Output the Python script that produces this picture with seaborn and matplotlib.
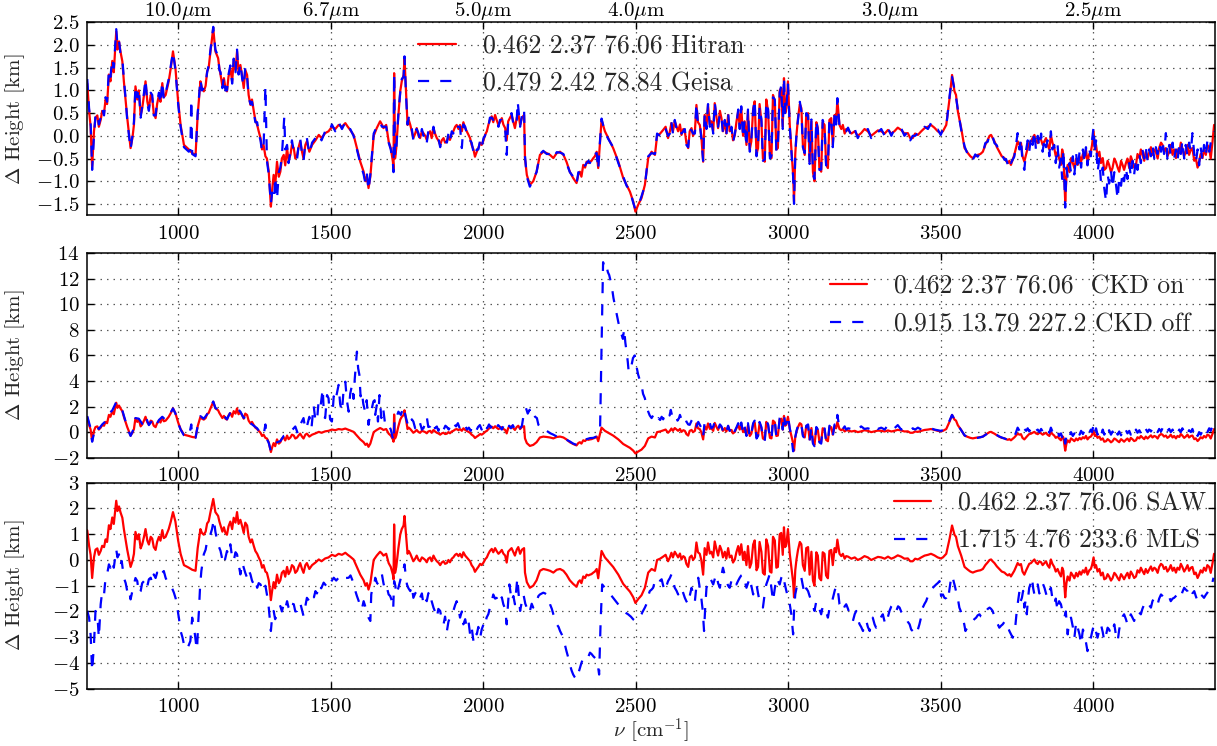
import numpy as np
import matplotlib
matplotlib.use("Agg")
import matplotlib.pyplot as plt
import seaborn as sns

# ---------------- data (wavenumber [cm-1], delta height [km]) ----------------
hitran = [(702,1.15),(708,0.55),(713,0.2),(718,-0.7),(724,0.1),(729,0.4),(735,0.45),(740,0.2),(746,0.35),(751,0.55),(757,0.5),(762,0.8),(767,0.7),(773,1.35),(778,1.2),(784,1.65),(789,1.4),(797,2.3),(801,1.9),(806,2.08),(811,1.85),(817,1.64),(822,1.2),(828,0.75),(833,0.4),(838,0.1),(844,-0.27),(850,-0.05),(855,0.24),(860,1.09),(866,0.8),(871,1.0),(877,0.45),(882,0.6),(888,0.9),(893,1.2),(899,0.75),(904,0.6),(910,0.9),(915,0.83),(920,0.5),(926,0.39),(931,0.7),(937,0.9),(942,0.75),(948,1.16),(953,0.85),(959,0.9),(964,1.05),(969,1.2),(976,1.5),(983,1.86),(991,1.49),(1000,0.75),(1008,0.24),(1019,-0.2),(1027,-0.25),(1035,-0.3),(1046,-0.38),(1057,-0.42),(1064,0.46),(1073,1.2),(1078,1.05),(1084,0.98),(1090,1.1),(1095,1.42),(1100,1.5),(1106,1.86),(1115,2.37),(1122,1.86),(1131,1.71),(1135,1.5),(1139,1.34),(1145,1.1),(1150,1.27),(1155,1.05),(1160,0.98),(1165,1.3),(1171,1.49),(1177,1.2),(1182,1.64),(1188,1.45),(1193,1.86),(1198,1.4),(1204,1.56),(1210,1.3),(1215,1.05),(1220,1.45),(1226,1.34),(1231,0.9),(1237,0.68),(1242,0.8),(1248,0.54),(1253,0.35),(1259,0.24),(1264,0.1),(1270,-0.05),(1275,-0.3),(1280,-0.2),(1286,-0.45),(1291,-0.5),(1297,-0.79),(1304,-1.56),(1308,-1.2),(1313,-0.86),(1318,-1.1),(1324,-0.57),(1330,-0.9),(1335,-0.79),(1340,-0.5),(1346,-0.42),(1351,-0.65),(1357,-0.27),(1362,-0.55),(1368,-0.42),(1373,-0.2),(1379,-0.27),(1384,-0.5),(1390,-0.42),(1395,-0.25),(1400,-0.12),(1406,-0.35),(1411,-0.5),(1417,-0.2),(1422,-0.12),(1430,-0.35),(1439,-0.2),(1450,-0.1),(1461,0.02),(1470,-0.05),(1482,0.06),(1493,0.1),(1504,0.2),(1515,0.15),(1526,0.24),(1537,0.2),(1548,0.28),(1556,0.2),(1564,0.13),(1575,0.02),(1586,-0.27),(1597,-0.57),(1608,-0.79),(1614,-1.0),(1619,-0.9),(1624,-1.15),(1630,-0.9),(1635,-0.49),(1641,0.0),(1651,0.17),(1662,0.32),(1668,0.25),(1673,0.17),(1682,0.24),(1690,-0.12),(1697,-0.27),(1704,-0.57),(1706,-0.75),(1708,1.38),(1711,-0.5),(1715,-0.27),(1722,0.46),(1728,0.98),(1733,1.2),(1739,1.34),(1742,1.71),(1747,0.98),(1752,0.24),(1756,0.35),(1761,0.24),(1766,0.1),(1771,-0.05),(1777,0.05),(1782,0.17),(1788,0.0),(1793,-0.05),(1799,0.1),(1804,0.06),(1810,0.0),(1815,-0.09),(1820,0.05),(1826,0.1),(1831,-0.05),(1837,0.17),(1842,0.05),(1848,-0.05),(1853,-0.1),(1859,-0.2),(1864,-0.1),(1870,-0.05),(1875,-0.15),(1881,-0.12),(1886,0.0),(1891,-0.09),(1897,0.05),(1902,0.1),(1908,0.2),(1913,0.24),(1919,0.15),(1924,0.24),(1930,0.1),(1935,0.3),(1941,0.17),(1946,0.1),(1952,0.02),(1957,-0.05),(1962,-0.2),(1968,-0.3),(1973,-0.46),(1979,-0.35),(1984,-0.27),(1990,-0.15),(1995,-0.2),(2001,-0.1),(2006,0.02),(2012,0.1),(2017,0.24),(2022,0.35),(2028,0.43),(2033,0.3),(2039,0.46),(2044,0.35),(2050,0.24),(2055,0.3),(2061,0.39),(2066,0.25),(2072,0.17),(2077,-0.1),(2082,0.32),(2088,0.4),(2093,0.46),(2099,0.3),(2104,0.17),(2110,0.4),(2115,0.5),(2121,0.24),(2127,0.4),(2134,0.46),(2137,-0.49),(2143,-0.86),(2153,-1.08),(2164,-1.0),(2175,-0.79),(2186,-0.42),(2197,-0.35),(2208,-0.38),(2219,-0.42),(2230,-0.49),(2241,-0.38),(2252,-0.35),(2263,-0.42),(2273,-0.57),(2284,-0.79),(2295,-0.93),(2306,-1.04),(2312,-0.85),(2317,-0.79),(2322,-0.9),(2328,-0.64),(2334,-0.7),(2339,-0.57),(2345,-0.6),(2350,-0.57),(2355,-0.55),(2361,-0.49),(2366,-0.45),(2372,-0.35),(2377,-0.71),(2383,-0.12),(2388,0.35),(2399,0.1),(2410,-0.05),(2426,-0.27),(2443,-0.57),(2459,-0.93),(2470,-1.08),(2481,-1.23),(2492,-1.45),(2499,-1.67),(2508,-1.52),(2519,-1.37),(2530,-1.08),(2541,-0.49),(2552,-0.35),(2563,-0.42),(2570,0.0),(2580,0.05),(2590,0.13),(2598,0.2),(2606,-0.05),(2612,0.1),(2617,0.28),(2622,0.1),(2628,0.32),(2634,0.2),(2639,0.1),(2645,0.25),(2650,0.02),(2656,0.15),(2661,0.1),(2666,-0.15),(2672,-0.27),(2677,0.1),(2683,0.17),(2688,0.0),(2694,0.1),(2699,0.68),(2704,0.3),(2710,0.24),(2715,0.0),(2721,-0.57),(2726,0.46),(2732,0.2),(2737,0.68),(2743,0.25),(2748,0.32),(2754,0.1),(2759,0.72),(2765,0.4),(2770,0.17),(2776,0.55),(2781,0.39),(2786,0.1),(2792,0.32),(2797,0.05),(2803,0.46),(2808,0.1),(2814,0.17),(2819,-0.1),(2825,0.02),(2830,0.3),(2836,0.54),(2841,0.2),(2846,0.61),(2852,0.0),(2857,0.32),(2863,-0.2),(2868,0.54),(2874,-0.3),(2879,-0.12),(2885,0.6),(2890,0.76),(2896,-0.4),(2901,-0.27),(2906,0.7),(2912,0.32),(2917,-0.5),(2923,-0.57),(2928,0.8),(2934,0.54),(2940,-0.45),(2945,-0.49),(2950,0.9),(2956,0.76),(2961,-0.3),(2966,-0.27),(2972,1.0),(2977,1.05),(2982,0.2),(2986,1.27),(2990,0.5),(2994,0.61),(2999,1.2),(3005,0.24),(3010,-0.27),(3016,-0.86),(3019,-1.45),(3023,-0.4),(3027,0.02),(3032,0.39),(3038,0.7),(3043,0.61),(3048,-0.2),(3054,-0.42),(3059,0.46),(3065,0.5),(3070,-0.57),(3076,0.32),(3081,-0.8),(3086,-1.0),(3092,0.3),(3097,0.17),(3102,-0.7),(3108,-0.79),(3113,0.3),(3119,0.24),(3124,-0.6),(3130,-0.71),(3135,0.35),(3141,0.39),(3146,-0.2),(3152,0.46),(3157,0.3),(3161,0.79),(3168,0.24),(3174,0.15),(3179,0.24),(3185,0.05),(3190,0.15),(3196,0.13),(3207,0.05),(3218,0.1),(3228,0.0),(3239,0.06),(3250,0.15),(3261,0.1),(3272,0.0),(3283,0.06),(3294,0.12),(3305,0.1),(3316,0.05),(3327,0.13),(3338,0.05),(3348,0.1),(3359,0.18),(3370,0.13),(3381,0.05),(3392,0.06),(3400,-0.05),(3408,-0.05),(3416,0.05),(3425,0.02),(3436,0.1),(3447,0.17),(3458,0.2),(3468,0.24),(3479,0.18),(3490,0.1),(3500,0.06),(3507,0.1),(3518,0.24),(3529,0.83),(3537,1.34),(3545,0.98),(3550,0.9),(3556,0.54),(3567,0.17),(3578,-0.27),(3589,-0.38),(3597,-0.45),(3605,-0.49),(3613,-0.45),(3621,-0.42),(3630,-0.4),(3638,-0.35),(3646,-0.2),(3654,-0.09),(3660,0.0),(3665,0.02),(3670,-0.05),(3676,-0.12),(3684,-0.25),(3692,-0.35),(3700,-0.45),(3709,-0.49),(3714,-0.55),(3720,-0.6),(3725,-0.55),(3730,-0.64),(3741,-0.42),(3752,-0.12),(3758,-0.2),(3763,-0.16),(3768,-0.45),(3774,-0.57),(3780,-0.4),(3785,-0.27),(3790,-0.15),(3796,-0.12),(3801,-0.05),(3807,0.02),(3812,-0.1),(3818,-0.16),(3823,-0.05),(3829,-0.09),(3834,-0.2),(3840,-0.12),(3845,-0.05),(3850,-0.2),(3856,-0.3),(3861,0.02),(3866,-0.15),(3872,-0.27),(3877,-0.45),(3883,-0.35),(3888,-0.5),(3894,-0.64),(3898,-0.3),(3902,-0.42),(3908,-1.45),(3912,-0.9),(3916,-0.64),(3922,-0.8),(3927,-0.49),(3933,-0.6),(3938,-0.71),(3944,-0.5),(3949,-0.64),(3955,-0.45),(3960,-0.57),(3966,-0.4),(3971,-0.49),(3976,-0.3),(3981,-0.57),(3987,-0.4),(3992,-0.35),(3996,-0.2),(4001,0.1),(4005,-0.3),(4009,-0.2),(4014,-0.45),(4020,-0.35),(4025,-0.6),(4031,-0.49),(4036,-0.75),(4042,-0.71),(4047,-0.55),(4052,-0.64),(4058,-0.8),(4063,-0.71),(4069,-0.5),(4074,-0.57),(4080,-0.7),(4085,-0.79),(4091,-0.55),(4096,-0.64),(4101,-0.75),(4107,-0.6),(4112,-0.5),(4118,-0.71),(4123,-0.45),(4129,-0.57),(4134,-0.7),(4140,-0.64),(4145,-0.4),(4151,-0.49),(4156,-0.3),(4161,-0.42),(4167,-0.55),(4172,-0.35),(4178,-0.5),(4183,-0.38),(4189,-0.25),(4194,-0.42),(4200,-0.3),(4205,-0.35),(4211,-0.5),(4216,-0.27),(4222,-0.15),(4227,-0.2),(4232,-0.35),(4238,-0.27),(4243,-0.45),(4249,-0.35),(4254,-0.2),(4260,-0.42),(4265,-0.3),(4271,-0.49),(4276,-0.3),(4282,-0.38),(4287,-0.15),(4292,-0.27),(4298,-0.45),(4303,-0.35),(4309,-0.2),(4314,-0.42),(4320,-0.3),(4325,-0.27),(4331,-0.55),(4336,-0.49),(4342,-0.7),(4347,-0.57),(4352,-0.4),(4358,-0.49),(4363,-0.3),(4369,-0.42),(4374,-0.2),(4380,-0.27),(4385,-0.5),(4391,-0.12),(4396,0.24)]

geisa = [(702,1.25),(708,0.6),(713,0.3),(718,-0.75),(724,0.0),(729,0.45),(735,0.5),(740,0.25),(746,0.4),(751,0.6),(757,0.45),(762,0.85),(767,0.75),(773,1.45),(778,1.3),(784,1.7),(789,1.5),(797,2.35),(801,2.0),(806,2.1),(811,1.8),(817,1.7),(822,1.25),(828,0.8),(833,0.35),(838,0.05),(844,-0.3),(850,0.0),(855,0.3),(860,1.1),(866,0.85),(871,1.05),(877,0.4),(882,0.65),(888,0.95),(893,1.25),(899,0.7),(904,0.55),(910,0.95),(915,0.9),(920,0.45),(926,0.45),(931,0.75),(937,0.95),(942,0.7),(948,1.2),(953,0.8),(959,0.95),(964,1.1),(969,1.25),(976,1.55),(983,1.85),(991,1.45),(1000,0.7),(1008,0.2),(1019,-0.25),(1027,-0.3),(1035,-0.35),(1040,-0.3),(1043,0.8),(1046,-0.4),(1057,-0.45),(1064,0.5),(1073,1.25),(1078,1.0),(1084,1.05),(1090,1.15),(1095,1.4),(1100,1.55),(1106,1.9),(1115,2.4),(1122,1.9),(1131,1.75),(1135,1.45),(1139,1.4),(1145,1.05),(1150,1.3),(1155,1.0),(1160,1.0),(1165,1.35),(1171,1.55),(1177,1.15),(1182,1.7),(1188,1.4),(1193,1.9),(1198,1.35),(1204,1.6),(1210,1.25),(1215,1.1),(1220,1.5),(1226,1.3),(1231,0.85),(1237,0.7),(1242,0.75),(1248,0.5),(1253,0.3),(1259,0.3),(1264,0.05),(1270,-0.1),(1275,-0.35),(1280,-0.25),(1286,1.09),(1291,-0.55),(1297,-0.85),(1304,-1.5),(1308,-1.25),(1315,-1.4),(1318,-0.9),(1324,-1.4),(1330,-0.8),(1335,-0.7),(1340,-0.45),(1348,0.43),(1351,-0.3),(1357,-0.2),(1362,-0.6),(1368,-0.35),(1373,-0.1),(1379,-0.35),(1384,-0.45),(1390,-0.5),(1395,-0.2),(1400,-0.05),(1406,-0.4),(1411,-0.55),(1417,-0.15),(1422,-0.05),(1430,-0.4),(1439,-0.15),(1450,-0.05),(1461,0.05),(1470,-0.1),(1482,0.1),(1493,0.05),(1504,0.25),(1515,0.1),(1526,0.3),(1537,0.15),(1548,0.3),(1556,0.15),(1564,0.15),(1575,0.0),(1586,-0.3),(1597,-0.6),(1608,-0.85),(1614,-1.05),(1619,-0.85),(1624,-1.2),(1630,-0.85),(1635,-0.45),(1641,0.05),(1651,0.2),(1662,0.3),(1668,0.2),(1673,0.2),(1682,0.2),(1690,-0.15),(1697,-0.3),(1704,-0.6),(1706,-0.8),(1708,1.38),(1711,-0.45),(1715,-0.3),(1722,0.5),(1728,0.95),(1733,1.25),(1739,1.3),(1742,1.75),(1747,0.9),(1752,0.25),(1756,0.4),(1761,0.2),(1766,0.15),(1771,-0.1),(1777,0.1),(1782,0.15),(1788,0.05),(1793,-0.1),(1799,0.15),(1804,0.0),(1810,0.05),(1815,-0.15),(1820,0.1),(1826,0.05),(1831,0.0),(1837,0.2),(1842,0.0),(1848,-0.1),(1853,-0.05),(1859,-0.25),(1864,-0.05),(1870,-0.1),(1875,-0.1),(1881,-0.15),(1886,0.05),(1891,-0.12),(1897,0.1),(1902,0.05),(1908,0.25),(1913,0.2),(1919,0.2),(1924,0.2),(1930,-0.27),(1935,0.25),(1941,0.2),(1946,0.05),(1952,0.05),(1957,-0.1),(1962,-0.15),(1968,-0.35),(1973,-0.45),(1979,-0.3),(1984,-0.3),(1990,-0.1),(1995,-0.25),(2001,-0.05),(2006,0.0),(2012,0.15),(2017,0.2),(2022,0.4),(2028,0.4),(2033,0.35),(2039,0.4),(2044,0.4),(2050,0.2),(2055,0.35),(2061,0.35),(2066,0.3),(2072,0.15),(2077,-0.42),(2082,0.35),(2088,0.35),(2093,0.5),(2099,0.25),(2104,0.2),(2110,0.35),(2113,0.76),(2121,0.2),(2127,0.45),(2134,0.6),(2137,-0.45),(2143,-0.9),(2153,-1.12),(2164,-0.95),(2175,-0.8),(2186,-0.4),(2197,-0.33),(2208,-0.4),(2219,-0.4),(2230,-0.5),(2241,-0.36),(2252,-0.37),(2263,-0.4),(2273,-0.6),(2284,-0.8),(2295,-0.9),(2306,-1.06),(2312,-0.8),(2317,-0.83),(2322,-0.85),(2328,-0.68),(2334,-0.65),(2339,-0.6),(2345,-0.55),(2350,-0.6),(2355,-0.5),(2361,-0.52),(2366,-0.4),(2372,-0.38),(2377,-0.75),(2383,-0.1),(2388,0.38),(2399,0.08),(2410,-0.07),(2426,-0.25),(2443,-0.6),(2459,-0.9),(2470,-1.1),(2481,-1.2),(2492,-1.48),(2499,-1.62),(2508,-1.55),(2519,-1.33),(2530,-1.1),(2541,-0.45),(2552,-0.38),(2563,-0.4),(2570,0.05),(2580,0.0),(2590,0.18),(2598,0.15),(2606,0.0),(2612,0.05),(2617,0.3),(2622,0.05),(2628,0.35),(2634,0.15),(2639,0.15),(2645,0.2),(2650,0.05),(2656,0.1),(2661,0.15),(2666,-0.2),(2672,-0.25),(2677,0.15),(2683,0.12),(2688,0.05),(2694,0.05),(2699,0.72),(2704,0.25),(2710,0.28),(2715,-0.05),(2721,-0.55),(2726,0.5),(2732,0.15),(2737,0.7),(2743,0.2),(2748,0.36),(2754,0.05),(2759,0.75),(2765,0.35),(2770,0.2),(2776,0.5),(2781,0.42),(2786,0.05),(2792,0.35),(2797,0.0),(2803,0.5),(2808,0.05),(2814,0.2),(2819,-0.15),(2825,0.05),(2830,0.25),(2836,0.58),(2841,0.15),(2846,0.65),(2852,-0.05),(2857,0.35),(2863,-0.25),(2868,0.58),(2874,-0.35),(2879,-0.08),(2885,0.55),(2890,0.8),(2896,-0.45),(2901,-0.22),(2906,0.65),(2912,0.36),(2917,-0.55),(2923,-0.52),(2928,0.75),(2934,0.58),(2940,-0.5),(2945,-0.44),(2950,0.85),(2956,0.8),(2961,-0.35),(2966,-0.22),(2972,0.95),(2977,1.1),(2982,0.15),(2986,1.3),(2990,0.45),(2994,0.65),(2999,1.15),(3005,0.2),(3010,-0.3),(3016,-0.9),(3019,-1.5),(3023,-0.45),(3027,0.05),(3032,0.35),(3038,0.75),(3043,0.55),(3048,-0.25),(3054,-0.38),(3059,0.5),(3065,0.45),(3070,-0.62),(3076,0.36),(3081,-0.85),(3086,-0.95),(3092,0.35),(3097,0.12),(3102,-0.75),(3108,-0.74),(3113,0.35),(3119,0.2),(3124,-0.65),(3130,-0.66),(3135,0.4),(3141,0.34),(3146,-0.25),(3152,0.5),(3157,0.25),(3161,0.83),(3168,0.2),(3174,0.2),(3179,0.2),(3185,0.1),(3190,0.1),(3196,0.18),(3207,0.0),(3218,0.15),(3228,-0.05),(3239,0.1),(3250,0.1),(3261,0.15),(3272,-0.05),(3283,0.1),(3294,0.08),(3305,0.15),(3316,0.0),(3327,0.17),(3338,0.0),(3348,0.15),(3359,0.13),(3370,0.17),(3381,0.0),(3392,0.1),(3400,-0.1),(3408,0.0),(3416,0.0),(3425,0.06),(3436,0.05),(3447,0.2),(3458,0.15),(3468,0.28),(3479,0.13),(3490,0.14),(3500,0.02),(3507,0.14),(3518,0.2),(3529,0.88),(3537,1.3),(3545,1.02),(3550,0.85),(3556,0.58),(3567,0.13),(3578,-0.23),(3589,-0.42),(3597,-0.41),(3605,-0.53),(3613,-0.41),(3621,-0.46),(3630,-0.36),(3638,-0.39),(3646,-0.16),(3654,-0.13),(3660,0.04),(3665,-0.02),(3670,-0.01),(3676,-0.16),(3684,-0.21),(3692,-0.39),(3700,-0.41),(3709,-0.53),(3714,-0.51),(3720,-0.64),(3725,-0.51),(3730,-0.6),(3741,-0.46),(3752,0.06),(3758,-0.3),(3763,-0.05),(3768,-0.6),(3774,-0.75),(3780,-0.3),(3785,-0.1),(3790,-0.35),(3796,0.0),(3801,-0.2),(3807,0.1),(3812,-0.3),(3818,0.0),(3823,-0.25),(3829,0.05),(3834,-0.35),(3840,-0.05),(3845,-0.25),(3850,-0.1),(3856,-0.45),(3861,0.1),(3866,-0.3),(3872,-0.2),(3877,-0.6),(3883,-0.2),(3888,-0.7),(3894,-0.5),(3898,-0.95),(3902,-0.3),(3908,-1.58),(3912,-0.7),(3916,-0.9),(3922,-0.6),(3927,-0.8),(3933,-0.45),(3938,-0.85),(3944,-0.4),(3949,-0.75),(3955,-0.35),(3960,-0.7),(3966,-0.3),(3971,-0.6),(3976,-0.25),(3981,-0.65),(3987,-0.3),(3992,-0.45),(3996,-0.1),(4001,0.2),(4005,-0.4),(4009,-0.1),(4014,-0.8),(4020,-0.5),(4025,-1.0),(4031,-0.7),(4036,-1.15),(4042,-1.45),(4047,-0.85),(4052,-1.05),(4058,-0.75),(4063,-1.15),(4069,-0.8),(4074,-1.05),(4080,-1.4),(4085,-0.9),(4091,-1.1),(4096,-0.8),(4101,-1.0),(4107,-0.7),(4112,-0.95),(4118,-0.6),(4123,-0.9),(4129,-0.55),(4134,-0.85),(4140,-0.5),(4145,-0.75),(4151,-0.4),(4156,-0.6),(4161,-0.3),(4167,-0.5),(4172,-0.25),(4178,-0.55),(4183,-0.3),(4189,-0.45),(4194,-0.2),(4200,-0.5),(4205,-0.25),(4211,-0.4),(4216,-0.15),(4222,-0.35),(4227,-0.1),(4232,-0.4),(4238,0.06),(4243,-0.5),(4249,-0.2),(4254,-0.45),(4260,-0.15),(4265,-0.5),(4271,-0.3),(4276,-0.55),(4282,-0.2),(4287,-0.4),(4292,-0.1),(4298,-0.5),(4303,-0.2),(4309,-0.45),(4314,-0.15),(4320,-0.35),(4325,0.06),(4331,-0.4),(4336,-0.6),(4342,-0.3),(4347,-0.65),(4352,-0.25),(4358,-0.55),(4363,-0.2),(4369,-0.45),(4374,-0.1),(4380,-0.35),(4385,-0.15),(4391,0.0),(4396,0.1)]

ckd_off = [(702,1.25),(713,0.3),(718,-0.75),(729,0.45),(740,0.25),(751,0.6),(762,0.85),(773,1.45),(784,1.7),(797,2.35),(806,2.1),(817,1.7),(828,0.8),(838,0.05),(844,-0.3),(855,0.3),(860,1.1),(871,1.05),(882,0.65),(893,1.25),(904,0.55),(915,0.9),(926,0.45),(937,0.95),(948,1.2),(959,0.95),(969,1.25),(983,1.85),(991,1.45),(1000,0.7),(1008,0.2),(1019,-0.25),(1035,-0.35),(1043,0.6),(1046,-0.4),(1057,-0.45),(1064,0.5),(1073,1.25),(1084,1.05),(1095,1.4),(1106,1.9),(1115,2.4),(1122,1.9),(1131,1.75),(1139,1.4),(1150,1.3),(1160,1.0),(1171,1.55),(1182,1.7),(1193,1.9),(1204,1.6),(1215,1.1),(1226,1.3),(1237,0.7),(1248,0.5),(1259,0.3),(1270,-0.1),(1280,-0.25),(1286,0.6),(1291,-0.55),(1297,-0.85),(1304,-1.5),(1315,-1.0),(1324,-0.8),(1335,-0.7),(1346,-0.3),(1357,-0.2),(1368,-0.1),(1375,0.2),(1384,0.44),(1392,-0.1),(1400,0.57),(1411,1.1),(1417,0.2),(1422,0.44),(1430,1.2),(1437,0.3),(1444,2.1),(1450,0.9),(1455,0.83),(1460,2.3),(1466,1.87),(1474,3.4),(1478,1.2),(1482,1.1),(1488,2.9),(1493,2.65),(1498,1.0),(1504,0.83),(1510,2.8),(1515,2.4),(1520,3.0),(1526,3.7),(1531,2.2),(1537,1.6),(1542,3.2),(1548,3.95),(1553,2.5),(1559,1.6),(1564,3.0),(1570,3.7),(1575,2.6),(1579,4.2),(1586,6.3),(1590,5.0),(1594,4.5),(1598,2.8),(1602,3.2),(1607,2.2),(1613,1.6),(1618,2.5),(1624,0.57),(1630,1.5),(1635,1.87),(1640,2.4),(1644,2.5),(1646,1.35),(1651,2.1),(1655,0.83),(1660,2.9),(1666,1.1),(1672,1.87),(1678,0.7),(1684,0.44),(1690,0.57),(1697,0.2),(1706,-0.73),(1710,1.2),(1715,1.1),(1722,1.6),(1730,1.35),(1739,2.0),(1744,1.4),(1750,0.83),(1755,0.4),(1761,0.57),(1766,1.0),(1771,0.83),(1777,0.3),(1782,0.44),(1788,0.9),(1793,0.7),(1799,0.2),(1804,0.3),(1810,0.7),(1815,1.2),(1820,0.4),(1826,0.44),(1831,0.6),(1837,0.83),(1842,0.3),(1848,0.44),(1853,0.1),(1859,0.57),(1864,0.2),(1870,0.18),(1876,0.5),(1881,0.4),(1887,0.2),(1893,0.55),(1899,0.3),(1905,0.6),(1911,0.45),(1917,0.7),(1923,0.3),(1929,0.6),(1935,0.4),(1941,0.5),(1947,0.2),(1953,0.35),(1959,0.1),(1965,0.5),(1971,0.3),(1977,0.1),(1983,0.4),(1989,0.55),(1995,0.2),(2001,0.7),(2007,0.45),(2013,0.3),(2019,0.6),(2025,0.35),(2031,0.7),(2037,0.5),(2043,0.3),(2049,0.55),(2055,0.4),(2061,0.2),(2067,0.5),(2073,0.35),(2079,0.1),(2085,0.5),(2091,0.3),(2097,0.55),(2103,0.25),(2109,0.45),(2115,0.6),(2121,0.3),(2127,0.5),(2134,1.6),(2140,1.9),(2146,1.45),(2152,1.75),(2158,1.35),(2164,1.55),(2170,1.2),(2176,1.1),(2181,0.57),(2190,0.3),(2197,0.05),(2208,0.1),(2219,-0.08),(2230,-0.2),(2241,-0.34),(2252,-0.3),(2263,-0.47),(2273,-0.6),(2284,-0.73),(2295,-0.9),(2306,-1.0),(2317,-0.8),(2328,-0.73),(2339,-0.55),(2350,-0.47),(2361,-0.45),(2372,-0.34),(2383,0.05),(2388,6.8),(2393,13.3),(2398,12.8),(2404,13.0),(2409,12.5),(2413,12.3),(2421,11.5),(2427,10.5),(2432,9.9),(2438,9.2),(2443,8.6),(2449,8.0),(2454,7.6),(2458,7.3),(2462,8.1),(2466,7.0),(2470,6.3),(2474,5.5),(2477,4.7),(2481,5.0),(2486,5.2),(2491,5.8),(2497,6.0),(2502,5.2),(2508,4.5),(2513,4.1),(2519,3.7),(2524,3.0),(2530,2.65),(2535,2.1),(2541,1.6),(2546,1.3),(2552,1.1),(2557,1.3),(2563,1.35),(2568,0.9),(2574,1.1),(2580,0.95),(2585,1.2),(2590,1.0),(2595,1.35),(2601,1.5),(2606,1.6),(2611,1.3),(2615,1.74),(2620,1.2),(2626,1.1),(2631,1.3),(2637,0.9),(2642,1.1),(2645,1.35),(2650,1.0),(2656,0.95),(2661,1.2),(2666,0.83),(2672,0.6),(2677,0.57),(2683,0.9),(2688,1.1),(2694,0.6),(2699,0.44),(2705,0.8),(2710,0.57),(2716,0.3),(2721,-0.34),(2726,0.8),(2732,0.83),(2737,1.0),(2743,0.7),(2748,0.3),(2754,0.44),(2759,0.8),(2765,0.5),(2770,0.2),(2776,0.6),(2781,0.45),(2786,0.1),(2792,0.4),(2797,0.05),(2803,0.5),(2808,0.1),(2814,0.3),(2819,-0.2),(2825,0.1),(2830,0.35),(2836,0.7),(2841,0.1),(2846,0.75),(2852,-0.1),(2857,0.45),(2863,-0.3),(2868,0.7),(2874,-0.45),(2879,-0.1),(2885,0.7),(2890,0.9),(2896,-0.5),(2901,-0.3),(2906,0.8),(2912,0.4),(2917,-0.6),(2923,-0.7),(2928,0.9),(2934,0.6),(2940,-0.5),(2945,-0.6),(2950,1.0),(2956,0.9),(2961,-0.4),(2966,-0.3),(2972,1.1),(2977,1.2),(2982,0.2),(2986,1.4),(2990,0.6),(2994,0.7),(2999,1.3),(3005,0.3),(3010,-0.3),(3016,-1.5),(3019,-1.2),(3023,-0.4),(3027,0.1),(3032,0.5),(3038,0.8),(3043,0.6),(3048,-0.3),(3054,-0.5),(3059,0.5),(3065,0.6),(3070,-0.7),(3076,0.4),(3081,-0.9),(3086,-1.1),(3092,0.4),(3097,0.2),(3102,-0.8),(3108,-0.9),(3113,0.4),(3119,0.3),(3124,-0.7),(3130,-0.8),(3135,0.5),(3141,0.4),(3146,-0.3),(3152,0.6),(3157,0.4),(3161,1.35),(3168,0.3),(3174,0.4),(3179,0.25),(3185,0.45),(3190,0.2),(3196,0.3),(3207,0.25),(3218,0.35),(3228,0.2),(3239,0.45),(3250,0.25),(3261,0.3),(3272,0.2),(3283,0.5),(3294,0.25),(3305,0.35),(3316,0.2),(3327,0.55),(3338,0.25),(3348,0.3),(3359,0.55),(3370,0.2),(3381,0.3),(3392,0.25),(3400,0.1),(3408,0.3),(3416,0.2),(3425,0.35),(3436,0.2),(3447,0.25),(3458,0.3),(3468,0.3),(3479,0.2),(3490,0.15),(3500,0.1),(3507,0.15),(3518,0.3),(3529,0.9),(3537,1.35),(3545,1.0),(3556,0.55),(3567,0.15),(3578,-0.25),(3589,-0.4),(3605,-0.5),(3621,-0.45),(3638,-0.35),(3654,-0.1),(3665,0.05),(3676,-0.1),(3692,-0.35),(3709,-0.5),(3720,-0.6),(3730,-0.6),(3741,-0.4),(3752,0.35),(3758,0.1),(3763,0.3),(3768,0.0),(3774,0.25),(3780,0.1),(3785,0.3),(3790,0.05),(3796,0.3),(3801,0.15),(3807,0.35),(3812,0.1),(3818,0.2),(3823,0.0),(3829,0.25),(3834,0.05),(3840,0.3),(3845,0.1),(3850,0.2),(3856,-0.05),(3861,0.35),(3866,0.05),(3872,0.0),(3877,-0.2),(3883,0.1),(3888,-0.3),(3894,-0.1),(3898,-0.4),(3902,0.0),(3908,-0.9),(3912,-0.3),(3916,-0.1),(3922,-0.4),(3927,0.0),(3933,-0.3),(3938,-0.1),(3944,-0.35),(3949,0.05),(3955,-0.2),(3960,0.1),(3966,-0.15),(3971,0.1),(3976,-0.1),(3981,0.15),(3987,-0.05),(3992,0.2),(3996,0.0),(4001,0.6),(4005,0.0),(4009,0.3),(4014,-0.2),(4020,0.1),(4025,-0.3),(4031,0.2),(4036,-0.2),(4042,0.1),(4047,-0.25),(4052,0.15),(4058,-0.2),(4063,0.05),(4069,-0.3),(4074,0.1),(4080,-0.2),(4085,0.05),(4091,-0.25),(4096,0.1),(4101,-0.15),(4107,0.15),(4112,-0.1),(4118,0.1),(4123,-0.2),(4129,0.15),(4134,-0.1),(4140,0.2),(4145,-0.05),(4151,0.15),(4156,-0.1),(4161,0.2),(4167,0.0),(4172,0.25),(4178,0.0),(4183,0.2),(4189,0.05),(4194,0.3),(4200,0.0),(4205,0.2),(4211,0.0),(4216,0.25),(4222,0.05),(4227,0.3),(4232,0.0),(4238,0.3),(4243,0.1),(4249,0.25),(4254,0.0),(4260,0.2),(4265,-0.1),(4271,0.15),(4276,-0.05),(4282,0.2),(4287,0.0),(4292,0.3),(4298,0.0),(4303,0.2),(4309,-0.1),(4314,0.15),(4320,0.0),(4325,0.25),(4331,-0.2),(4336,0.1),(4342,-0.3),(4347,0.0),(4352,-0.2),(4358,0.1),(4363,-0.1),(4369,0.2),(4374,0.0),(4380,0.3),(4385,0.1),(4391,0.5),(4396,0.8)]

mls = [(702,-1.98),(708,-2.24),(713,-2.9),(718,-4.32),(724,-3.28),(729,-1.98),(735,-2.11),(740,-3.02),(746,-1.72),(751,-1.21),(757,-1.34),(762,-0.69),(767,-0.56),(773,-0.17),(778,-0.3),(784,-0.04),(789,-0.3),(797,0.41),(801,0.1),(806,0.22),(811,-0.2),(815,-0.04),(822,-0.69),(828,-0.9),(833,-1.21),(838,-1.1),(844,-1.53),(850,-1.2),(855,-0.95),(860,-0.7),(866,-0.82),(871,-1.3),(877,-1.21),(882,-0.9),(888,-0.82),(893,-1.1),(899,-1.01),(904,-0.75),(910,-0.69),(915,-0.9),(920,-0.56),(926,-0.7),(931,-0.49),(937,-0.6),(942,-0.69),(948,-0.5),(953,-0.43),(959,-0.7),(964,-0.82),(969,-0.9),(975,-0.95),(980,-1.1),(986,-1.27),(992,-1.5),(997,-1.85),(1003,-2.3),(1008,-2.76),(1014,-3.0),(1019,-3.28),(1024,-3.4),(1029,-3.48),(1035,-3.3),(1040,-3.15),(1046,-2.24),(1051,-2.6),(1055,-2.9),(1059,-3.3),(1062,-3.48),(1065,-2.6),(1068,-1.98),(1072,-1.0),(1076,-0.43),(1080,-0.1),(1084,0.22),(1090,0.4),(1095,0.74),(1100,0.8),(1106,1.0),(1111,1.2),(1117,1.58),(1122,1.1),(1128,0.74),(1134,0.5),(1139,0.35),(1145,0.0),(1150,-0.17),(1155,0.1),(1160,0.35),(1166,0.2),(1171,0.61),(1177,0.1),(1182,-0.04),(1188,0.3),(1193,0.22),(1199,-0.2),(1204,-0.56),(1210,-0.1),(1215,-0.3),(1220,-0.5),(1226,-0.69),(1231,-0.4),(1237,-0.56),(1242,-0.8),(1248,-0.95),(1253,-0.8),(1259,-1.08),(1264,-0.9),(1270,-0.95),(1275,-1.2),(1280,-1.21),(1286,-1.0),(1291,-1.34),(1297,-1.85),(1304,-2.76),(1308,-2.2),(1313,-1.98),(1318,-2.3),(1324,-2.11),(1330,-1.9),(1335,-1.79),(1340,-2.0),(1346,-1.72),(1351,-1.9),(1357,-1.6),(1362,-1.85),(1368,-1.98),(1373,-1.7),(1379,-1.72),(1384,-2.0),(1390,-1.98),(1395,-1.75),(1400,-1.66),(1406,-1.95),(1411,-2.18),(1417,-1.8),(1422,-1.47),(1430,-1.6),(1439,-1.34),(1445,-1.45),(1450,-1.21),(1455,-1.3),(1461,-0.95),(1469,-1.1),(1477,-0.88),(1485,-1.0),(1493,-0.75),(1501,-0.85),(1510,-0.69),(1518,-0.8),(1526,-0.69),(1534,-0.75),(1542,-0.62),(1550,-0.7),(1559,-0.69),(1565,-0.6),(1570,-0.75),(1575,-0.9),(1581,-1.21),(1586,-1.4),(1592,-1.6),(1597,-1.8),(1602,-1.92),(1608,-1.6),(1613,-1.79),(1619,-2.0),(1624,-2.24),(1630,-2.37),(1633,-1.34),(1635,-1.21),(1642,-1.08),(1646,-0.69),(1652,-0.9),(1657,-0.95),(1662,-0.7),(1668,-0.56),(1673,-0.9),(1679,-1.21),(1685,-1.1),(1690,-1.34),(1695,-1.4),(1701,-1.6),(1705,-1.9),(1708,-0.82),(1712,-1.0),(1715,-1.34),(1722,-1.08),(1728,-0.8),(1733,-0.56),(1738,-0.4),(1742,-0.17),(1746,-0.6),(1750,-0.95),(1755,-1.1),(1761,-1.21),(1766,-1.0),(1771,-1.47),(1777,-1.3),(1782,-1.21),(1788,-1.5),(1793,-1.47),(1799,-1.3),(1804,-1.72),(1810,-1.5),(1815,-1.6),(1820,-1.3),(1826,-1.21),(1831,-1.6),(1837,-1.85),(1842,-2.0),(1848,-2.24),(1853,-1.9),(1859,-1.98),(1864,-2.3),(1870,-2.5),(1875,-2.2),(1881,-2.76),(1886,-2.4),(1891,-2.24),(1897,-2.0),(1902,-1.98),(1908,-1.75),(1913,-1.6),(1919,-1.9),(1924,-2.24),(1930,-2.0),(1935,-2.5),(1941,-2.3),(1946,-2.63),(1952,-2.4),(1957,-2.89),(1962,-2.6),(1968,-3.15),(1973,-2.8),(1979,-2.89),(1984,-2.6),(1990,-3.02),(1995,-2.7),(2001,-2.5),(2006,-2.6),(2011,-2.24),(2017,-2.1),(2022,-1.85),(2028,-1.6),(2033,-1.34),(2039,-1.5),(2044,-1.47),(2050,-1.7),(2055,-1.6),(2061,-1.45),(2066,-1.72),(2072,-1.9),(2077,-2.5),(2082,-1.6),(2086,-0.95),(2090,-1.3),(2093,-1.6),(2099,-1.4),(2104,-1.72),(2108,-1.2),(2112,-0.69),(2116,-1.3),(2121,-1.98),(2127,-1.6),(2132,-1.34),(2138,-1.7),(2143,-1.85),(2148,-1.75),(2153,-1.98),(2159,-1.7),(2164,-1.85),(2170,-1.6),(2175,-1.6),(2181,-1.4),(2186,-1.34),(2192,-1.3),(2197,-1.27),(2203,-1.3),(2208,-1.34),(2214,-1.5),(2219,-1.72),(2225,-1.9),(2230,-2.11),(2236,-2.3),(2241,-2.5),(2247,-2.6),(2252,-2.76),(2258,-2.9),(2263,-3.02),(2268,-3.3),(2273,-3.54),(2279,-3.8),(2284,-4.06),(2290,-4.3),(2295,-4.45),(2300,-4.55),(2306,-4.64),(2312,-4.4),(2317,-4.19),(2322,-4.0),(2328,-3.8),(2334,-3.7),(2339,-3.67),(2345,-3.75),(2350,-3.6),(2355,-3.65),(2361,-3.74),(2366,-3.8),(2372,-3.87),(2376,-4.1),(2380,-4.45),(2385,-2.37),(2390,-0.95),(2399,-1.08),(2410,-1.21),(2418,-1.35),(2426,-1.47),(2435,-1.6),(2443,-1.72),(2451,-1.85),(2459,-1.98),(2467,-2.05),(2475,-2.11),(2484,-2.2),(2492,-2.31),(2497,-2.35),(2503,-2.37),(2508,-2.3),(2514,-2.18),(2519,-2.1),(2524,-1.98),(2530,-1.85),(2535,-1.72),(2541,-1.4),(2546,-1.21),(2552,-1.15),(2557,-1.08),(2563,-0.82),(2568,-0.9),(2574,-0.95),(2580,-0.8),(2585,-0.75),(2590,-1.0),(2595,-1.21),(2601,-1.0),(2606,-0.82),(2612,-0.7),(2617,-0.56),(2622,-0.8),(2628,-1.08),(2634,-1.2),(2639,-1.34),(2645,-1.2),(2650,-1.08),(2656,-1.3),(2661,-1.47),(2666,-1.6),(2672,-1.72),(2677,-1.4),(2683,-1.08),(2688,-1.3),(2694,-1.6),(2699,-1.0),(2705,-0.69),(2710,-1.1),(2715,-1.47),(2720,-2.0),(2724,-2.76),(2728,-1.8),(2732,-1.08),(2738,-0.9),(2743,-0.69),(2748,-0.8),(2754,-0.95),(2760,-0.7),(2765,-0.56),(2770,-0.9),(2776,-1.08),(2781,-0.6),(2786,-0.3),(2792,-0.6),(2797,-0.82),(2803,-1.0),(2808,-1.08),(2814,-0.8),(2819,-0.69),(2825,-0.85),(2830,-0.95),(2836,-0.8),(2841,-0.69),(2846,-0.6),(2852,-0.56),(2857,-0.8),(2863,-1.08),(2868,-0.9),(2874,-0.69),(2879,-1.0),(2885,-1.34),(2890,-1.1),(2896,-0.95),(2901,-1.3),(2906,-1.6),(2912,-1.7),(2917,-1.85),(2923,-1.3),(2928,-0.95),(2934,-0.75),(2939,-0.56),(2945,-1.1),(2950,-1.6),(2956,-1.1),(2961,-0.69),(2966,-0.8),(2972,-0.95),(2977,-0.7),(2983,-0.56),(2988,-0.9),(2994,-1.21),(3000,-1.5),(3005,-1.72),(3010,-2.1),(3016,-2.89),(3019,-2.0),(3023,-1.34),(3027,-1.1),(3032,-0.95),(3038,-0.8),(3043,-0.69),(3048,-1.0),(3054,-1.34),(3059,-1.1),(3065,-1.21),(3070,-1.4),(3076,-1.6),(3081,-1.8),(3086,-1.98),(3092,-1.6),(3097,-1.72),(3102,-1.9),(3108,-2.11),(3113,-1.8),(3119,-1.85),(3124,-2.0),(3130,-2.24),(3135,-1.9),(3141,-1.72),(3146,-1.5),(3152,-1.21),(3157,-1.0),(3161,-1.08),(3165,-1.4),(3168,-1.72),(3174,-1.85),(3179,-1.98),(3185,-1.8),(3190,-1.72),(3196,-1.9),(3201,-2.11),(3207,-2.2),(3212,-2.37),(3218,-2.1),(3223,-1.98),(3228,-2.3),(3234,-2.5),(3239,-2.6),(3245,-2.76),(3250,-2.5),(3256,-2.37),(3261,-2.6),(3267,-2.76),(3272,-2.4),(3277,-2.24),(3283,-2.5),(3288,-2.63),(3294,-2.5),(3299,-2.37),(3305,-2.2),(3310,-2.11),(3316,-2.4),(3321,-2.5),(3327,-2.2),(3332,-1.98),(3338,-1.8),(3343,-1.72),(3348,-1.9),(3354,-1.98),(3360,-1.8),(3365,-1.85),(3370,-2.0),(3376,-2.11),(3381,-2.2),(3387,-2.24),(3392,-2.4),(3398,-2.5),(3403,-2.7),(3408,-2.76),(3414,-2.55),(3419,-2.63),(3425,-2.7),(3430,-2.5),(3436,-2.2),(3441,-1.85),(3447,-1.7),(3452,-1.6),(3458,-1.4),(3463,-1.21),(3468,-1.15),(3474,-1.08),(3480,-1.0),(3485,-0.95),(3490,-0.9),(3496,-0.82),(3501,-1.4),(3507,-1.34),(3512,-1.47),(3518,-1.5),(3523,-1.6),(3529,-1.1),(3534,-0.69),(3538,-0.6),(3542,-0.82),(3546,-1.0),(3550,-1.21),(3556,-1.5),(3561,-1.85),(3566,-2.0),(3572,-2.24),(3577,-2.5),(3581,-2.76),(3588,-2.6),(3594,-2.5),(3600,-2.45),(3605,-2.37),(3610,-2.3),(3616,-2.24),(3621,-2.15),(3627,-2.11),(3632,-2.2),(3638,-2.24),(3643,-2.1),(3649,-1.98),(3654,-1.9),(3660,-1.85),(3665,-1.9),(3670,-1.98),(3676,-2.2),(3681,-2.37),(3687,-2.5),(3692,-2.63),(3698,-2.55),(3703,-2.5),(3709,-2.4),(3714,-2.37),(3720,-2.6),(3725,-2.76),(3731,-2.9),(3736,-3.02),(3741,-2.8),(3745,-2.5),(3749,-2.0),(3752,-1.72),(3758,-1.21),(3762,-1.6),(3766,-1.47),(3770,-1.2),(3774,-1.85),(3778,-1.6),(3782,-2.11),(3786,-1.5),(3790,-1.08),(3795,-0.9),(3799,-0.69),(3803,-1.1),(3807,-1.34),(3812,-1.0),(3818,-0.95),(3823,-1.3),(3829,-1.21),(3834,-0.9),(3840,-1.08),(3845,-1.3),(3850,-1.47),(3856,-1.2),(3861,-1.08),(3866,-1.5),(3872,-1.72),(3877,-1.5),(3883,-1.98),(3888,-1.6),(3894,-1.72),(3899,-2.0),(3905,-2.24),(3910,-2.0),(3916,-2.89),(3922,-2.3),(3927,-2.24),(3933,-2.6),(3938,-3.02),(3944,-2.4),(3949,-2.63),(3955,-2.9),(3960,-3.28),(3966,-2.7),(3971,-2.89),(3976,-3.2),(3981,-3.54),(3987,-3.1),(3992,-3.02),(3998,-2.7),(4003,-2.5),(4009,-2.8),(4014,-3.02),(4020,-2.7),(4025,-2.5),(4031,-2.8),(4036,-3.15),(4042,-2.9),(4047,-2.63),(4052,-2.7),(4058,-2.89),(4063,-2.7),(4069,-2.5),(4074,-2.9),(4080,-3.15),(4085,-2.7),(4091,-2.37),(4096,-2.2),(4101,-2.11),(4107,-2.3),(4112,-2.5),(4118,-2.3),(4123,-2.11),(4129,-2.25),(4134,-2.37),(4140,-2.1),(4145,-1.98),(4151,-2.05),(4156,-2.11),(4161,-1.9),(4167,-1.72),(4172,-1.65),(4178,-1.6),(4183,-1.75),(4189,-1.85),(4194,-1.6),(4200,-1.47),(4205,-1.6),(4211,-1.72),(4216,-1.5),(4222,-1.34),(4227,-1.4),(4232,-1.47),(4238,-1.4),(4243,-1.34),(4249,-1.45),(4254,-1.6),(4260,-1.5),(4265,-1.47),(4271,-1.4),(4276,-1.34),(4282,-1.4),(4287,-1.47),(4292,-1.25),(4298,-1.08),(4303,-1.15),(4309,-1.21),(4314,-1.35),(4320,-1.47),(4325,-1.3),(4331,-1.21),(4336,-1.4),(4342,-1.6),(4347,-1.45),(4352,-1.34),(4358,-1.4),(4363,-1.47),(4369,-1.35),(4374,-1.27),(4380,-1.15),(4385,-1.08),(4390,-0.9),(4394,-0.69)]

labels_top = ["0.462 2.37 76.06 Hitran", "0.479 2.42 78.84 Geisa"]
labels_mid = ["0.462 2.37 76.06  CKD on", "0.915 13.79 227.2 CKD off"]
labels_bot = ["0.462 2.37 76.06 SAW", "1.715 4.76 233.6 MLS"]

wl_pos = [1000, 1500, 2000, 2500, 10000 / 3.0, 4000]
wl_labels = [r"10.0$\mu$m", r"6.7$\mu$m", r"5.0$\mu$m", r"4.0$\mu$m", r"3.0$\mu$m", r"2.5$\mu$m"]
x_ticks = [1000, 1500, 2000, 2500, 3000, 3500, 4000]

# ---------------- style ----------------
sns.set_theme(style="white")
plt.rcParams.update({
    "font.family": ["cmr10", "DejaVu Serif"],
    "mathtext.fontset": "cm",
    "axes.formatter.use_mathtext": True,
    "axes.unicode_minus": True,
    "font.size": 15,
    "axes.edgecolor": "black",
    "axes.linewidth": 1.1,
    "xtick.direction": "in",
    "ytick.direction": "in",
    "xtick.top": True,
    "ytick.right": True,
    "xtick.bottom": True,
    "ytick.left": True,
    "xtick.major.size": 5,
    "ytick.major.size": 5,
    "xtick.major.width": 1,
    "ytick.major.width": 1,
    "xtick.color": "black",
    "ytick.color": "black",
    "xtick.labelsize": 15,
    "ytick.labelsize": 15,
    "axes.axisbelow": True,
})

fig = plt.figure(figsize=(12.17, 7.46), dpi=100)
L, W = 0.0712, 0.9274
ax1 = fig.add_axes([L, 0.7114, W, 0.2587])
ax2 = fig.add_axes([L, 0.3865, W, 0.2740])
ax3 = fig.add_axes([L, 0.0768, W, 0.2761])


def draw(ax, data, color, label, dashed=False):
    arr = np.asarray(data, dtype=float)
    sns.lineplot(x=arr[:, 0], y=arr[:, 1], ax=ax, color=color, linewidth=1.6,
                 estimator=None, sort=False, label=label, legend=False,
                 linestyle="--" if dashed else "-")
    if dashed:
        ax.get_lines()[-1].set_dashes([5, 5])


draw(ax1, hitran, "#ff0000", labels_top[0])
draw(ax1, geisa, "#0000ff", labels_top[1], dashed=True)
draw(ax2, hitran, "#ff0000", labels_mid[0])
draw(ax2, ckd_off, "#0000ff", labels_mid[1], dashed=True)
draw(ax3, hitran, "#ff0000", labels_bot[0])
draw(ax3, mls, "#0000ff", labels_bot[1], dashed=True)

ylims = [(-1.75, 2.5), (-2, 14), (-5, 3)]
yticks = [np.arange(-1.5, 2.51, 0.5), np.arange(-2, 14.1, 2), np.arange(-5, 3.1, 1)]
for ax, yl, yt in zip([ax1, ax2, ax3], ylims, yticks):
    ax.set_xlim(700, 4400)
    ax.set_ylim(*yl)
    ax.set_xticks(x_ticks)
    ax.set_yticks(yt)
    ax.grid(True, color="0.35", linestyle=(0, (1.2, 4)), linewidth=0.9)
    ax.tick_params(axis="x", pad=7)
    ax.tick_params(axis="y", pad=5)
    ax.set_xlabel("")
    ax.set_ylabel(r"$\Delta$ Height [km]", fontsize=15)
    ax.yaxis.set_label_coords(-0.053, 0.5)
    for s in ax.spines.values():
        s.set_color("black")

ax1.yaxis.set_major_formatter(matplotlib.ticker.FormatStrFormatter(r"$%.1f$"))

ax3.set_xlabel(r"$\nu$ [cm$^{-1}$]", fontsize=15)
ax3.xaxis.set_label_coords(0.5, -0.135)

sec = ax1.secondary_xaxis("top")
sec.set_xticks(wl_pos, labels=wl_labels)
sec.tick_params(length=0, pad=0.5, labelsize=15)
sec.spines["top"].set_visible(False)

leg_kw = dict(frameon=False, fontsize=18.5, handlelength=1.45, handletextpad=1.05,
              borderpad=0.0, borderaxespad=0.0, labelspacing=0.55, loc="upper left")
ax1.legend(bbox_to_anchor=(0.294, 0.94), **leg_kw)
ax2.legend(bbox_to_anchor=(0.6586, 0.895), **leg_kw)
ax3.legend(bbox_to_anchor=(0.7153, 0.958), **leg_kw)

fig.savefig("out.png", dpi=100)
